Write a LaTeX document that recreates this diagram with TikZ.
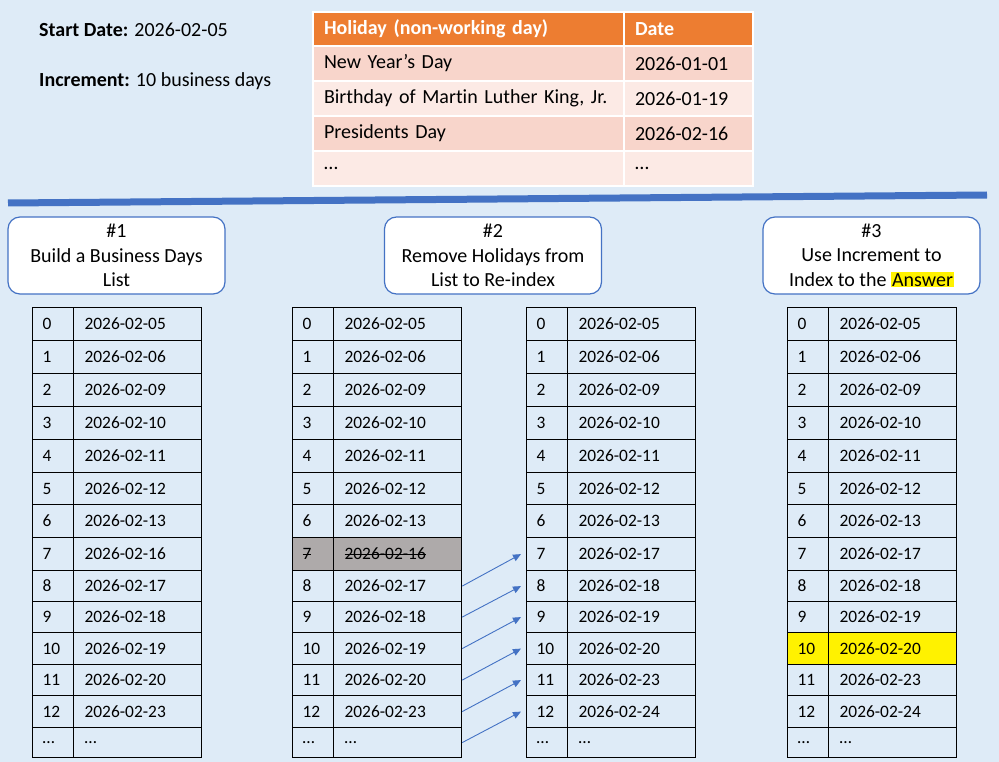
\documentclass[tikz,border=0pt]{standalone}
\usepackage{fontspec}
\setmainfont{Carlito}[Ligatures=NoCommon]
\usetikzlibrary{arrows.meta}
\definecolor{bg}{HTML}{DEEBF7}
\definecolor{accent}{HTML}{4472C4}
\definecolor{hdr}{HTML}{ED7D31}
\definecolor{rowA}{HTML}{F8D5CB}
\definecolor{rowB}{HTML}{FCEAE5}
\definecolor{struck}{HTML}{AEAAAA}
\newcommand\mystrike[1]{\setbox0=\hbox{#1}\rlap{\rule[0.27em]{\wd0}{0.07em}}\box0}
\newcommand\rowcells[7][]{%
  \node[icell,minimum height=#5pt,#1] (#2i) at (#3,#4) {#6};
  \node[dcell,minimum height=#5pt,#1] (#2d) at (#3+41,#4) {#7};}
\def\seven{7}
\def\ten{10}
\def\ListA{0/0/307/33/2026-02-05, 1/1/340/33/2026-02-06, 2/2/373/33/2026-02-09, 3/3/406/33/2026-02-10, 4/4/439/33/2026-02-11, 5/5/472/32/2026-02-12, 6/6/504/33/2026-02-13, 7/7/537/33/2026-02-16, 8/8/570/31/2026-02-17, 9/9/601/31/2026-02-18, 10/10/632/32/2026-02-19, 11/11/664/31/2026-02-20, 12/12/695/32/2026-02-23, e/…/727/30/…}
\def\ListB{0/0/307/33/2026-02-05, 1/1/340/33/2026-02-06, 2/2/373/33/2026-02-09, 3/3/406/33/2026-02-10, 4/4/439/33/2026-02-11, 5/5/472/32/2026-02-12, 6/6/504/33/2026-02-13, 7/7/537/33/2026-02-17, 8/8/570/31/2026-02-18, 9/9/601/31/2026-02-19, 10/10/632/32/2026-02-20, 11/11/664/31/2026-02-23, 12/12/695/32/2026-02-24, e/…/727/30/…}
\begin{document}
\begin{tikzpicture}[x=1pt,y=-1pt,
  every node/.style={font=\fontsize{17.4}{21}\selectfont},
  icell/.style={anchor=north west,draw=black,line width=1.2pt,minimum width=41pt,text width=21pt,inner xsep=10pt,inner ysep=0pt,align=left},
  dcell/.style={anchor=north west,draw=black,line width=1.2pt,minimum width=128pt,text width=106pt,inner xsep=11pt,inner ysep=0pt,align=left},
  hcell/.style={anchor=north west,draw=white,line width=2pt,inner xsep=11pt,inner ysep=0pt,align=left,font=\fontsize{20}{23}\selectfont},
  hname/.style={hcell,minimum width=311pt,text width=289pt},
  hdate/.style={hcell,minimum width=129pt,text width=107pt},
  stepbox/.style={draw=accent,line width=1.2pt,fill=white,rounded corners=12pt,minimum width=217pt,minimum height=77pt,align=center,inner sep=0pt,font=\fontsize{20}{24.5}\selectfont},
  arr/.style={draw=accent,line width=0.9pt,-{Triangle[length=8pt,width=7pt]}},
  lbl/.style={anchor=west,inner sep=0pt,font=\fontsize{20}{24}\selectfont}]
\fill[bg] (0,0) rectangle (999,762);
% top-left info
\node[lbl] (sd) at (39,30) {\textbf{Start Date:} 2026-02-05};
\node[lbl] (inc) at (39,81) {\textbf{Increment:} 10 business days};
% holiday table
\node[hname,fill=hdr,minimum height=34pt,text=white,font=\fontsize{20}{23}\selectfont\bfseries] (h0n) at (312,11) {Holiday (non-working day)};
\node[hdate,fill=hdr,minimum height=34pt,text=white,font=\fontsize{20}{23}\selectfont\bfseries] (h0d) at (623,11) {Date};
\node[hname,fill=rowA,minimum height=35pt] (h1n) at (312,45) {New Year’s Day};
\node[hdate,fill=rowA,minimum height=35pt] (h1d) at (623,45) {2026-01-01};
\node[hname,fill=rowB,minimum height=35pt] (h2n) at (312,80) {Birthday of Martin Luther King, Jr.};
\node[hdate,fill=rowB,minimum height=35pt] (h2d) at (623,80) {2026-01-19};
\node[hname,fill=rowA,minimum height=35pt] (h3n) at (312,115) {Presidents Day};
\node[hdate,fill=rowA,minimum height=35pt] (h3d) at (623,115) {2026-02-16};
\node[hname,fill=rowB,minimum height=35pt] (h4n) at (312,150) {…};
\node[hdate,fill=rowB,minimum height=35pt] (h4d) at (623,150) {…};
% separator
\draw[accent,line width=7pt] (8,203) -- (987,195);
% step boxes
\node[stepbox] (s1) at (116.5,255.5) {\#1\\Build a Business Days\\List};
\node[stepbox] (s2) at (493,255.5) {\#2\\Remove Holidays from\\List to Re-index};
\node[stepbox] (s3) at (871.5,255.5) {\#3\\Use Increment to\\Index to the {\fboxsep=1pt\colorbox{yellow}{Answer}}};
% tables
\foreach \n/\l/\t/\h/\d in \ListA {
  \rowcells{a\n}{32}{\t}{\h}{\l}{\d}
}
\foreach \n/\l/\t/\h/\d in \ListA {
  \ifx\n\seven
    \rowcells[fill=struck]{b\n}{292}{\t}{\h}{\mystrike{\l}}{\mystrike{\d}}
  \else
    \rowcells{b\n}{292}{\t}{\h}{\l}{\d}
  \fi
}
\foreach \n/\l/\t/\h/\d in \ListB {
  \rowcells{c\n}{526}{\t}{\h}{\l}{\d}
}
\foreach \n/\l/\t/\h/\d in \ListB {
  \ifx\n\ten
    \rowcells[fill=yellow]{d\n}{787}{\t}{\h}{\l}{\d}
  \else
    \rowcells{d\n}{787}{\t}{\h}{\l}{\d}
  \fi
}
% re-index arrows
\foreach \a/\b in {8/7, 9/8, 10/9, 11/10, 12/11, e/12}
  \draw[arr] (b\a d.east) -- ([xshift=-5pt]c\b i.west);
\end{tikzpicture}
\end{document}
